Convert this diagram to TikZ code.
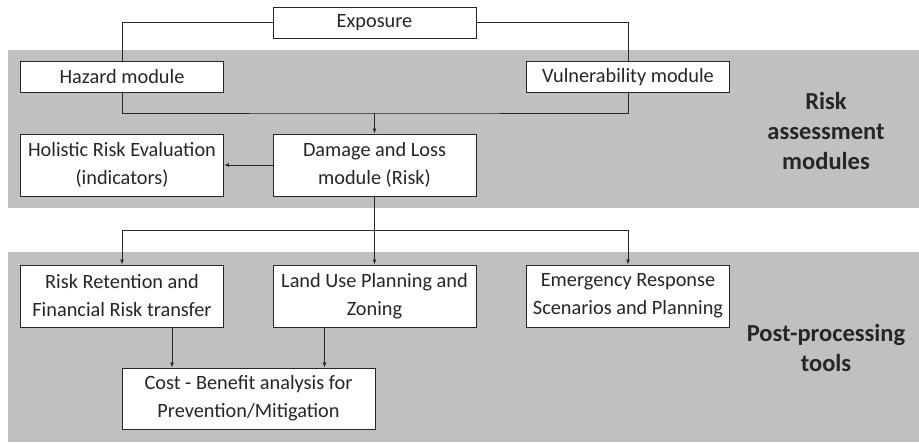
\documentclass[tikz,border=0pt]{standalone}
\usepackage{fontspec}
\setmainfont{Carlito}
\usetikzlibrary{arrows.meta,positioning}

\definecolor{bandgray}{RGB}{192,192,192}
\definecolor{ink}{RGB}{38,38,38}

\begin{document}
\begin{tikzpicture}[x=1pt,y=-1pt,
    band/.style={fill=bandgray,draw=none},
    box/.style={draw=ink,line width=0.9pt,fill=white,text=ink,align=center,
      minimum width=203pt,minimum height=31pt,inner sep=0pt,
      font=\fontsize{20.3}{28}\selectfont},
    tallbox/.style={box,minimum height=62pt},
    tag/.style={text=ink,align=center,font=\fontsize{24.5}{30}\selectfont\bfseries},
    link/.style={draw=ink,line width=0.9pt},
    arr/.style={link,-{Latex[length=5pt,width=4pt]}}]
  \useasboundingbox (0,0) rectangle (919,443);
  % grey bands
  \fill[band] (8,50) rectangle (919,208);
  \fill[band] (8,252) rectangle (919,442);
  % risk assessment part
  \node[box] (expo) at (374.5,22.5) {Exposure};
  \node[box] (haz) at (122,77) {Hazard module};
  \node[box] (vul) at (628,77) {Vulnerability module};
  \node[tallbox] (holi) at (122,165) {Holistic Risk Evaluation\\(indicators)};
  \node[tallbox] (dmg) at (374.5,165) {Damage and Loss\\module (Risk)};
  % post-processing part
  \node[tallbox] (rrt) at (122,296) {Risk Retention and\\Financial Risk transfer};
  \node[tallbox] (land) at (374.5,296) {Land Use Planning and\\Zoning};
  \node[tallbox] (emer) at (628,296) {Emergency Response\\Scenarios and Planning};
  \node[tallbox,minimum width=253pt,minimum height=61pt] (cost) at (248.5,398.5)
    {Cost - Benefit analysis for\\Prevention/Mitigation};
  % side labels
  \node[tag] (riskl) at (826,131) {Risk\\assessment\\modules};
  \node[tag] (postl) at (826,348) {Post-processing\\tools};
  % connectors
  \coordinate (join) at (374.5,113);
  \coordinate (split) at (374.5,230);
  \draw[link] (expo.west) -| (haz.north);
  \draw[link] (expo.east) -| (vul.north);
  \draw[link] (haz.south) |- (join) -| (vul.south);
  \draw[arr] (join) -- (dmg.north);
  \draw[arr] (dmg.west) -- (holi.east);
  \draw[link] (dmg.south) -- (split);
  \draw[arr] (split) -| (rrt.north);
  \draw[arr] (split) -- (land.north);
  \draw[arr] (split) -| (emer.north);
  \draw[arr] ([xshift=50pt]rrt.south) -- ([xshift=50pt]rrt.south |- cost.north);
  \draw[arr] ([xshift=-50pt]land.south) -- ([xshift=-50pt]land.south |- cost.north);
\end{tikzpicture}
\end{document}
